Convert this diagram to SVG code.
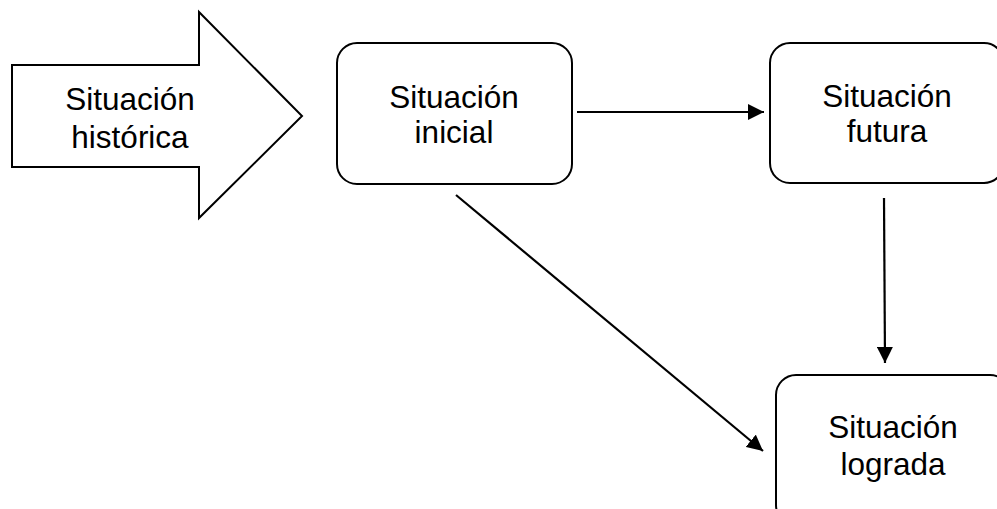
<svg xmlns="http://www.w3.org/2000/svg" width="997" height="509" viewBox="0 0 997 509">
<defs>
<style>
.box{fill:#fff;stroke:#000;stroke-width:2}
.lbl{font-family:"Liberation Sans",Arial,sans-serif;font-size:31.5px;fill:#000;text-anchor:middle}
.con{stroke:#000;stroke-width:2.2;fill:none}
</style>
<marker id="ah" viewBox="0 0 16 16" refX="16" refY="8" markerWidth="16" markerHeight="16" markerUnits="userSpaceOnUse" orient="auto">
<path d="M0,0 L16,8 L0,16 Z" fill="#000"/>
</marker>
</defs>
<rect width="997" height="509" fill="#fff"/>
<g id="historica">
<path class="box" d="M12,65 L199,65 L199,12 L302,116 L199,218 L199,167 L12,167 Z"/>
<text class="lbl" x="130" y="110">Situación</text>
<text class="lbl" x="130" y="148">histórica</text>
</g>
<g id="inicial">
<rect class="box" x="337" y="43" width="235" height="141" rx="20"/>
<text class="lbl" x="454" y="108">Situación</text>
<text class="lbl" x="454" y="143">inicial</text>
</g>
<g id="futura">
<rect class="box" x="770" y="43" width="234" height="140" rx="20"/>
<text class="lbl" x="887" y="107">Situación</text>
<text class="lbl" x="887" y="142">futura</text>
</g>
<g id="lograda">
<rect class="box" x="776" y="375" width="234" height="150" rx="20"/>
<text class="lbl" x="893" y="438">Situación</text>
<text class="lbl" x="893" y="475">lograda</text>
</g>
<g id="connectors">
<line class="con" x1="577" y1="112" x2="764" y2="112" marker-end="url(#ah)"/>
<line class="con" x1="884" y1="198" x2="885" y2="363" marker-end="url(#ah)"/>
<line class="con" x1="456" y1="195" x2="763" y2="451" marker-end="url(#ah)"/>
</g>
</svg>
